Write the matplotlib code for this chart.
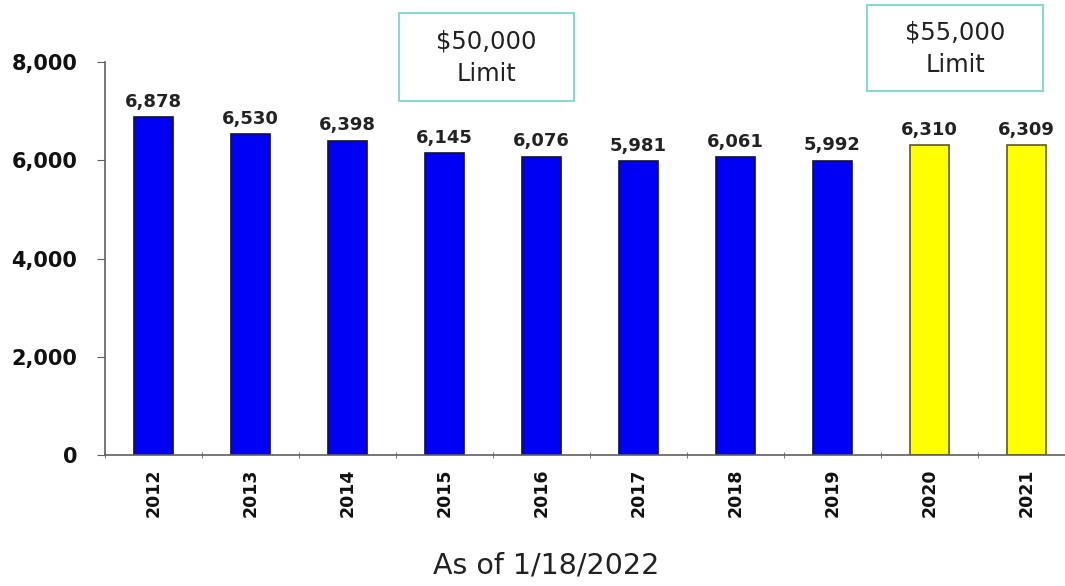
import numpy as np
import matplotlib
matplotlib.use('Agg')
import matplotlib.pyplot as plt
from matplotlib.patches import Rectangle

# data
years = ['2012', '2013', '2014', '2015', '2016', '2017', '2018', '2019', '2020', '2021']
counts = [6878, 6530, 6398, 6145, 6076, 5981, 6061, 5992, 6310, 6309]
limit_period = ['50k', '50k', '50k', '50k', '50k', '50k', '50k', '50k', '55k', '55k']
yticks = [0, 2000, 4000, 6000, 8000]
footnote = 'As of 1/18/2022'
box_labels = ['$50,000\nLimit', '$55,000\nLimit']

W, H = 1065, 586
fig = plt.figure(figsize=(W / 100, H / 100), dpi=100)
# axes extends slightly past the right edge like in the original
ax = fig.add_axes([105 / W, (H - 455) / H, 970 / W, 393 / H])

x = np.arange(len(years))
face = ['#0000f5' if p == '50k' else '#ffff00' for p in limit_period]
edge = ['#101040' if p == '50k' else '#5a5a20' for p in limit_period]
ax.bar(x, counts, width=0.4, color=face, edgecolor=edge, linewidth=1.2, zorder=2)

for xi, v in zip(x, counts):
    ax.text(xi, v + 130, f'{v:,}', ha='center', va='bottom', fontsize=13,
            fontweight='bold', family='DejaVu Sans', color='#222222')

ax.set_xlim(-0.5, len(years) - 0.5)
ax.set_ylim(0, 8000)
ax.set_yticks(yticks)
ax.set_yticklabels([f'{t:,}' for t in yticks], fontsize=15, fontweight='bold',
                   family='DejaVu Sans', color='#111111')
ax.set_xticks(x)
ax.set_xticklabels(years, rotation=90, fontsize=12.5, fontweight='bold',
                   family='DejaVu Sans', color='#111111')
ax.tick_params(axis='x', length=0, pad=10)
ax.set_xticks(np.arange(len(years) + 1) - 0.5, minor=True)
ax.tick_params(axis='x', which='minor', length=5, direction='inout', color='#606060')
ax.tick_params(axis='y', length=6, color='#606060', pad=14)

for s in ['top', 'right']:
    ax.spines[s].set_visible(False)
for s in ['left', 'bottom']:
    ax.spines[s].set_color('#606060')
    ax.spines[s].set_linewidth(1.2)

# limit boxes (pixel boxes from the picture)
boxes = [(399, 13, 175, 88), (867, 5, 176, 86)]
for (bx, by, bw, bh), lab in zip(boxes, box_labels):
    fig.patches.append(Rectangle((bx / W, 1 - (by + bh) / H), bw / W, bh / H,
                                 transform=fig.transFigure, fill=False,
                                 edgecolor='#8ad8d0', linewidth=1.5))
    fig.text((bx + bw / 2) / W, 1 - (by + bh / 2 + 1) / H, lab, ha='center', va='center',
             fontsize=17.5, family='DejaVu Sans', color='#222222', linespacing=1.45)

fig.text(546 / W, 1 - 566 / H, footnote, ha='center', va='center', fontsize=20.5,
         family='DejaVu Sans', color='#222222')

fig.savefig('out.png', dpi=100)
